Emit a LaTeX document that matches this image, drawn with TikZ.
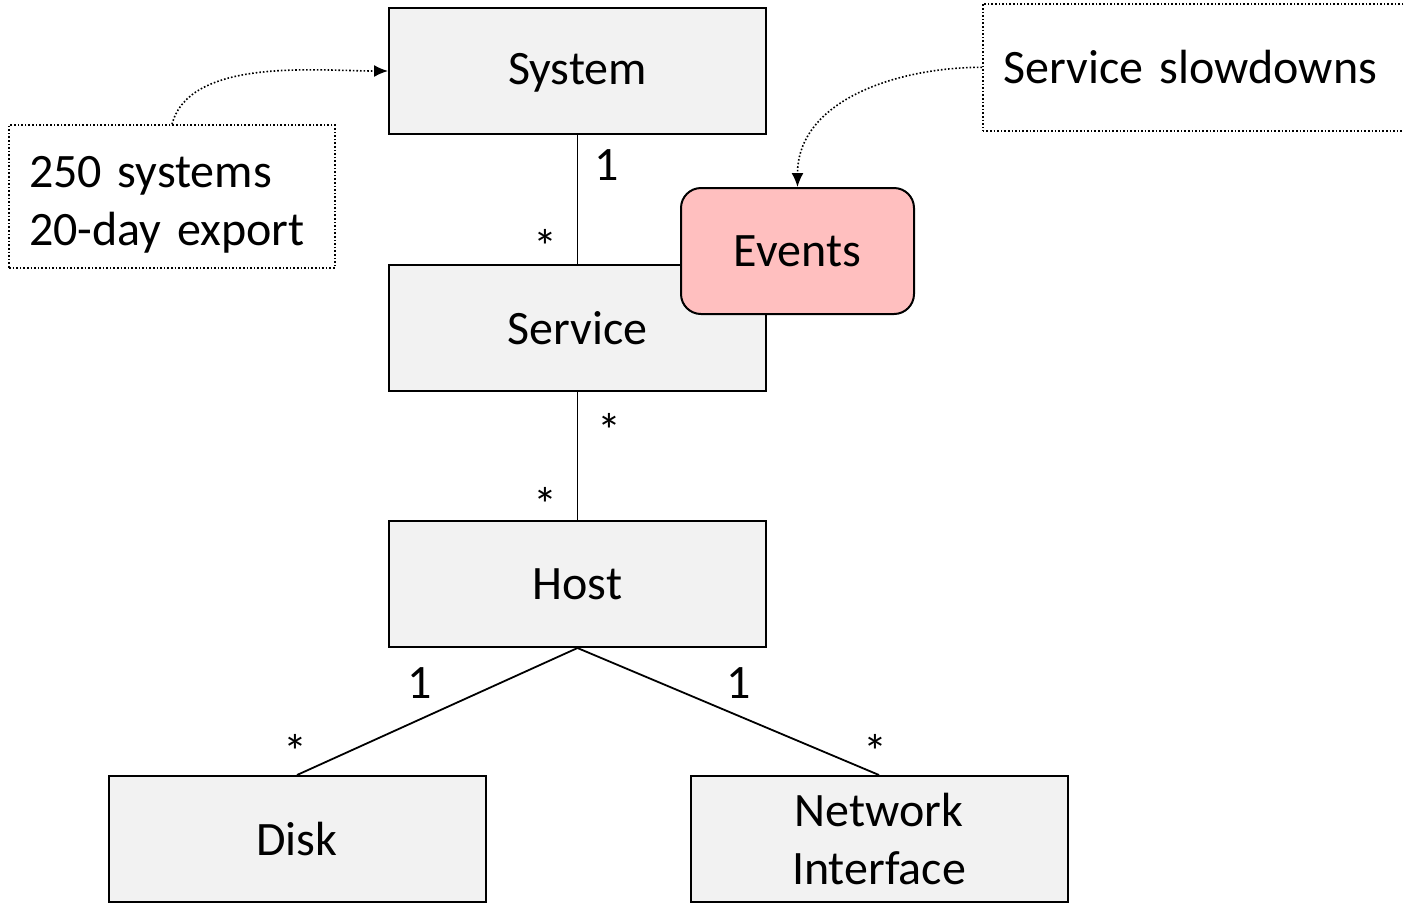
\documentclass[tikz,border=0pt]{standalone}
\usepackage{fontspec}
\setmainfont{Carlito}
\usetikzlibrary{positioning,arrows.meta,shapes}
\definecolor{boxgray}{RGB}{242,242,242}
\definecolor{eventpink}{RGB}{255,191,191}
\newcommand{\diagfont}{\fontsize{24}{29}\selectfont}
\tikzset{
	>={Latex[length=7pt,width=6pt]},
	node distance=65pt,
	entity/.style={draw, line width=1pt, fill=boxgray, minimum width=188.5pt, minimum height=63pt, align=center, font=\diagfont},
	event/.style={entity, fill=eventpink, rounded corners=10pt, minimum width=116.5pt},
	note/.style={draw, densely dotted, line width=0.8pt, align=left, font=\diagfont},
	mult/.style={inner sep=0pt, anchor=base, font=\diagfont},
	assoc/.style={line width=0.9pt},
}

\begin{document}
\begin{tikzpicture}[x=0.5pt, y=-0.5pt]
	\useasboundingbox (0,0) rectangle (1404,902);
	% entities
	\node[entity, text depth=2pt] (sys) at (577.5,71) {System};
	\node[entity, below=64.5pt of sys] (svc) {Service};
	\node[entity, below=64pt of svc] (host) {Host};
	\node[entity, below=63.5pt of host, xshift=-140.25pt] (disk) {Disk};
	\node[entity, below=63.5pt of host, xshift=150.75pt] (nic) {Network\\Interface};
	\node[event] (evt) at (797.5,251) {Events};
	% associations
	\draw[assoc] (sys) -- (svc);
	\draw[assoc] (svc) -- (host);
	\draw[assoc] (host.south) -- (disk.north);
	\draw[assoc] (host.south) -- (nic.north);
	% multiplicities
	\node[mult] (m1) at (607,180) {1};
	\node[mult] (m2) at (545,263) {*};
	\node[mult] (m3) at (609,447) {*};
	\node[mult] (m4) at (545,521) {*};
	\node[mult] (m5) at (420,698) {1};
	\node[mult] (m6) at (295,768) {*};
	\node[mult] (m7) at (739,698) {1};
	\node[mult] (m8) at (875,768) {*};
	% notes
	\node[note, text width=143pt, inner xsep=10pt, minimum height=71.5pt] (n1) at (172,196.5) {\rule{0pt}{24pt}250 systems\\20-day export};
	\node[note, anchor=north west, text width=200pt, inner xsep=10.5pt, minimum height=63.5pt] (n2) at (982,3) {Service slowdowns};
	\draw[->, densely dotted, line width=0.8pt] (n1.north) to[out=75, in=180, looseness=0.8] (sys.west);
	\draw[->, densely dotted, line width=0.8pt] (n2.west) to[out=180, in=90] (evt.north);
\end{tikzpicture}
\end{document}
